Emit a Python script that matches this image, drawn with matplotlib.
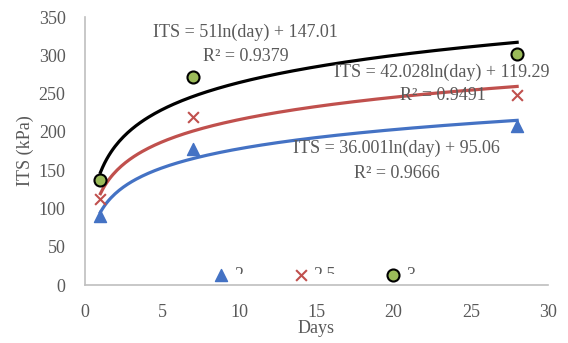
import numpy as np
import matplotlib.pyplot as plt
from matplotlib.transforms import Bbox

days = [1, 7, 28]
its_2 = [90, 178, 207]
its_25 = [112, 220, 248]
its_3 = [137, 272, 302]

# log trend coefficients shown on the chart (slope, intercept)
fit_2 = (36.001, 95.06)
fit_25 = (42.028, 119.29)
fit_3 = (51.0, 147.01)

plt.rcParams["font.family"] = ["Liberation Serif", "DejaVu Serif"]

fig = plt.figure(figsize=(5.68, 3.43), dpi=100)
ax = fig.add_axes([85 / 568, (343 - 285) / 343, (548 - 85) / 568, (285 - 17) / 343])

t = np.linspace(1, 28, 200)
ax.plot(t, fit_2[0] * np.log(t) + fit_2[1], color="#4472C4", lw=2.3, zorder=2)
ax.plot(t, fit_25[0] * np.log(t) + fit_25[1], color="#C0504D", lw=2.3, zorder=2)
ax.plot(t, fit_3[0] * np.log(t) + fit_3[1], color="black", lw=2.3, zorder=2)

ax.scatter(days, its_2, marker="^", s=75, color="#4472C4", label="2", zorder=3)
ax.scatter(days, its_25, marker="x", s=60, color="#C0504D", linewidths=1.5, label="2.5", zorder=3)
ax.scatter(days, its_3, marker="o", s=75, facecolor="#9BBB59", edgecolor="black",
           linewidths=1.5, label="3", zorder=3)

ax.set_xlim(0, 30)
ax.set_ylim(0, 350)
ax.set_xticks(range(0, 31, 5))
ax.set_yticks(range(0, 351, 50))
ax.tick_params(length=0, labelsize=13, colors="#595959")
ax.tick_params(axis="y", pad=14)
ax.tick_params(axis="x", pad=14)
for s in ["top", "right"]:
    ax.spines[s].set_visible(False)
for s in ["left", "bottom"]:
    ax.spines[s].set_color("#BFBFBF")
    ax.spines[s].set_linewidth(1.2)

ax.set_xlabel("Days", fontsize=13, color="#595959", labelpad=-1)
ax.set_ylabel("ITS (kPa)", fontsize=13, color="#595959", labelpad=3)

tc = "#595959"
ax.text(10.4, 330, "ITS = 51ln(day) + 147.01", ha="center", va="center", fontsize=13, color=tc)
ax.text(10.4, 298, "R² = 0.9379", ha="center", va="center", fontsize=13, color=tc)
ax.text(23.1, 278, "ITS = 42.028ln(day) + 119.29", ha="center", va="center", fontsize=13, color=tc)
ax.text(23.2, 247, "R² = 0.9491", ha="center", va="center", fontsize=13, color=tc)
ax.text(20.2, 178, "ITS = 36.001ln(day) + 95.06", ha="center", va="center", fontsize=13, color=tc)
ax.text(20.2, 146, "R² = 0.9666", ha="center", va="center", fontsize=13, color=tc)

leg = ax.legend(loc="center", bbox_to_anchor=(0.492, 0.035), ncol=3, frameon=False,
                fontsize=13, handletextpad=0.1, columnspacing=2.6, handlelength=1.2)
clip = Bbox.from_extents(0, 343 - 274, 568, 343)
for txt in leg.get_texts():
    txt.set_color(tc)
    txt.set_clip_box(clip)
    txt.set_clip_on(True)

fig.savefig("out.png", dpi=100)
